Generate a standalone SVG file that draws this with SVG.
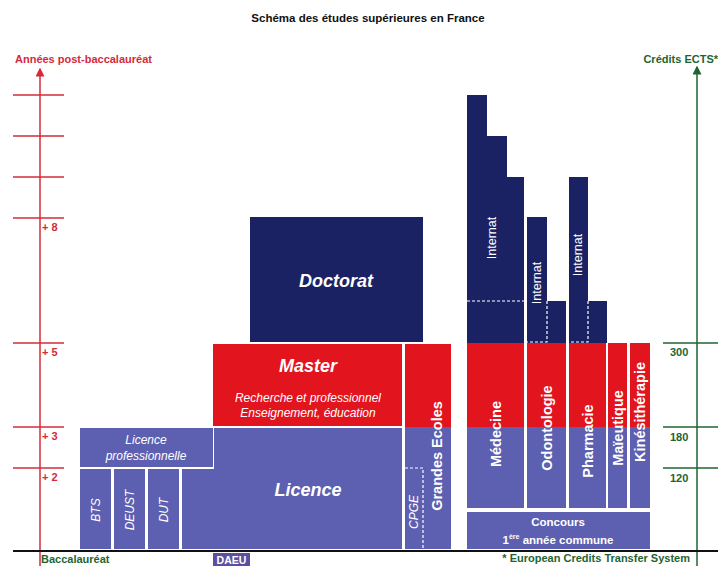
<svg xmlns="http://www.w3.org/2000/svg" width="718" height="566" viewBox="0 0 718 566">
<defs>
<style>
text{font-family:"Liberation Sans",Arial,sans-serif}
.navy{fill:#1b2264}
.red{fill:#e2141e}
.blue{fill:#5d5fb0}
.w{fill:#fff}
.wt{fill:#fff;text-anchor:middle}
.big{font-size:18px;font-weight:bold;font-style:italic}
.it{font-size:12px;font-style:italic}
.vb{font-size:14.5px;font-weight:bold}
.ax{font-size:11px;font-weight:bold;fill:#d42a3a}
.gx{font-size:11px;font-weight:bold;fill:#1e6430}
.redl{stroke:#d42a3a;stroke-width:1.5;fill:none}
.grnl{stroke:#1e6430;stroke-width:1.5;fill:none}
.dash{stroke:#fff;stroke-width:1.2;stroke-dasharray:3,2;fill:none}
.wl{stroke:#fff;stroke-width:2;fill:none}
</style>
<marker id="ar" viewBox="0 0 10 10" refX="5" refY="5" markerWidth="6" markerHeight="6" orient="auto"><path d="M0,0 L10,5 L0,10 z" fill="#d42a3a"/></marker>
<marker id="ag" viewBox="0 0 10 10" refX="5" refY="5" markerWidth="6" markerHeight="6" orient="auto"><path d="M0,0 L10,5 L0,10 z" fill="#1e6430"/></marker>
</defs>
<rect width="718" height="566" fill="#fff"/>
<text x="368" y="22" text-anchor="middle" font-size="11.5" font-weight="bold" fill="#111">Schéma des études supérieures en France</text>

<g id="axis-left">
<text x="15" y="63" class="ax">Années post-baccalauréat</text>
<line x1="40" y1="566" x2="40" y2="72" class="redl" marker-end="url(#ar)"/>
<g class="redl">
<line x1="13" y1="95" x2="64" y2="95"/>
<line x1="13" y1="136" x2="64" y2="136"/>
<line x1="13" y1="177" x2="64" y2="177"/>
<line x1="13" y1="218" x2="64" y2="218"/>
<line x1="13" y1="343" x2="64" y2="343"/>
<line x1="13" y1="427" x2="64" y2="427"/>
<line x1="13" y1="468" x2="64" y2="468"/>
</g>
<text x="42" y="231" class="ax" font-size="12">+ 8</text>
<text x="42" y="356" class="ax" font-size="12">+ 5</text>
<text x="42" y="440" class="ax" font-size="12">+ 3</text>
<text x="42" y="481" class="ax" font-size="12">+ 2</text>
</g>

<g id="axis-right">
<text x="718" y="63" class="gx" text-anchor="end">Crédits ECTS*</text>
<line x1="697" y1="566" x2="697" y2="70" class="grnl" marker-end="url(#ag)"/>
<g class="grnl">
<line x1="663" y1="343" x2="718" y2="343"/>
<line x1="663" y1="427" x2="718" y2="427"/>
<line x1="663" y1="468" x2="718" y2="468"/>
</g>
<text x="670" y="356" class="gx" font-size="12">300</text>
<text x="670" y="441" class="gx" font-size="12">180</text>
<text x="670" y="482" class="gx" font-size="12">120</text>
</g>

<g id="doctorat">
<rect x="250" y="217" width="173" height="125" class="navy"/>
<text x="336" y="287" class="wt big">Doctorat</text>
</g>

<g id="master">
<rect x="213" y="344" width="189" height="82" class="red"/>
<text x="308" y="372" class="wt big">Master</text>
<text x="308" y="402" class="wt it">Recherche et professionnel</text>
<text x="308" y="417" class="wt it">Enseignement, éducation</text>
</g>

<g id="licence">
<path d="M182,469 H214 V428 H402 V549 H182 Z" class="blue"/>
<text x="308" y="496" class="wt big">Licence</text>
</g>

<g id="licence-pro">
<rect x="80" y="428" width="133" height="39" class="blue"/>
<text x="146" y="444" class="wt it">Licence</text>
<text x="146" y="460" class="wt it">professionnelle</text>
</g>

<g id="bts">
<rect x="80" y="469" width="31" height="80" class="blue"/>
<text transform="translate(100,510) rotate(-90)" class="wt it">BTS</text>
</g>
<g id="deust">
<rect x="114" y="469" width="31" height="80" class="blue"/>
<text transform="translate(134,510) rotate(-90)" class="wt it">DEUST</text>
</g>
<g id="dut">
<rect x="148" y="469" width="31" height="80" class="blue"/>
<text transform="translate(168,510) rotate(-90)" class="wt it">DUT</text>
</g>

<g id="grandes-ecoles">
<rect x="405" y="344" width="46" height="83" class="red"/>
<rect x="405" y="427" width="46" height="122" class="blue"/>
<text transform="translate(442,456) rotate(-90)" class="wt vb">Grandes Ecoles</text>
</g>
<g id="cpge">
<path d="M405,468 H423 V549" class="dash"/>
<text transform="translate(418,512) rotate(-90)" class="wt it" font-size="10.5">CPGE</text>
</g>

<g id="medecine">
<path d="M467,95 H487 V136 H507 V177 H524 V343 H467 Z" class="navy"/>
<line x1="467" y1="301" x2="524" y2="301" class="dash"/>
<text transform="translate(496,238) rotate(-90)" class="wt" font-size="12.5">Internat</text>
<rect x="467" y="343" width="57" height="84" class="red"/>
<rect x="467" y="427" width="57" height="81" class="blue"/>
<text transform="translate(501,434) rotate(-90)" class="wt vb">Médecine</text>
</g>
<g id="odontologie">
<path d="M527,217 H547 V301 H566 V343 H527 Z" class="navy"/>
<path d="M547,301 V342 H527" class="dash"/>
<text transform="translate(541,283) rotate(-90)" class="wt" font-size="12.5">Internat</text>
<rect x="527" y="343" width="39" height="84" class="red"/>
<rect x="527" y="427" width="39" height="81" class="blue"/>
<text transform="translate(552,428) rotate(-90)" class="wt vb">Odontologie</text>
</g>
<g id="pharmacie">
<path d="M569,177 H588 V301 H607 V343 H569 Z" class="navy"/>
<path d="M588,301 V342 H569" class="dash"/>
<text transform="translate(582,255) rotate(-90)" class="wt" font-size="12.5">Internat</text>
<rect x="569" y="343" width="37" height="84" class="red"/>
<rect x="569" y="427" width="37" height="81" class="blue"/>
<text transform="translate(593,441) rotate(-90)" class="wt vb">Pharmacie</text>
</g>
<g id="maieutique">
<rect x="608" y="343" width="19" height="84" class="red"/>
<rect x="608" y="427" width="19" height="81" class="blue"/>
<text transform="translate(623,428) rotate(-90)" class="wt vb">Maïeutique</text>
</g>
<g id="kinesitherapie">
<rect x="630" y="343" width="20" height="84" class="red"/>
<rect x="630" y="427" width="20" height="81" class="blue"/>
<text transform="translate(645,412) rotate(-90)" class="wt vb">Kinésithérapie</text>
</g>
<g id="concours">
<rect x="467" y="512" width="183" height="37" class="blue"/>
<text x="558" y="526" class="wt" font-size="11.5" font-weight="bold">Concours</text>
<text x="558" y="544" class="wt" font-size="11.5" font-weight="bold">1<tspan font-size="7" dy="-5">ère</tspan><tspan dy="5"> année commune</tspan></text>
</g>

<g id="baseline">
<line x1="13" y1="551" x2="718" y2="551" stroke="#111" stroke-width="2"/>
<text x="41" y="563" class="gx" font-size="10.5">Baccalauréat</text>
<text x="690" y="562" class="gx" font-size="9.5" text-anchor="end">* European Credits Transfer System</text>
</g>
<g id="daeu">
<rect x="213" y="553" width="37" height="13" fill="#5d4f9e"/>
<text x="231.5" y="564" class="wt" font-size="10.5" font-weight="bold">DAEU</text>
</g>
</svg>
